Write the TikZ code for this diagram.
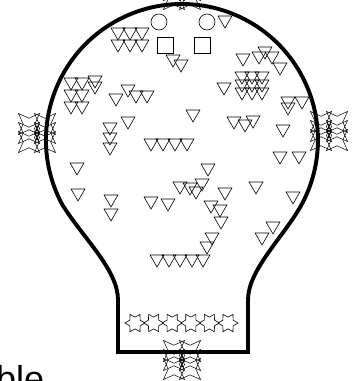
\documentclass[tikz,border=0pt]{standalone}
\usepackage{fontspec}
\setmainfont{Liberation Sans}
\usetikzlibrary{shapes.geometric}
\begin{document}
\begin{tikzpicture}[x=1pt,y=-1pt,
  tri/.style={draw, regular polygon, regular polygon sides=3, shape border rotate=180, minimum size=16pt, inner sep=0pt, line width=0.6pt},
  rnd/.style={draw, circle, minimum size=16pt, inner sep=0pt, line width=0.6pt},
  sq/.style={draw, rectangle, minimum size=16pt, inner sep=0pt, line width=0.6pt},
  hexstar/.style={draw, star, star points=6, star point ratio=1.7, minimum size=20pt, inner sep=0pt, shape border rotate=30, line width=0.6pt},
  quadstar/.style={draw, star, star points=4, star point ratio=2.6, minimum size=30pt, inner sep=0pt, shape border rotate=45, line width=0.5pt},
  dot/.style={draw, circle, minimum size=5pt, inner sep=0pt, line width=0.5pt},
  bulb/.style={line width=3.9pt, line join=miter}]
\useasboundingbox (0,0) rectangle (359,381);
% bulb outline
\draw[bulb] (118,352) -- (118,300) .. controls (118,270) and (84,239) .. (62.5,205)
  arc[start angle=151.45, end angle=388.55, radius=136]
  .. controls (282,239) and (248,270) .. (248,300) -- (248,352) -- cycle;
% circles and squares
\node[rnd] (c1) at (159,22) {};
\node[rnd] (c2) at (207,22) {};
\node[sq] (s1) at (165,45) {};
\node[sq] (s2) at (202,45) {};
% triangles (centre x / top y)
\foreach \x/\y [count=\i] in {
  118/28,130/28,142/28,118/40,130/40,142/40,
  173/55,181/60,225/16,
  243/54,259/52,265/47,272/52,280/63,
  242/72,252/72,262/72,242/80,252/80,262/80,242/88,252/88,262/88,
  224/83,288/97,288/103,302/97,193/110,234/117,245/120,253/116,283/125,
  71/78,82/78,95/76,95/82,71/90,82/90,71/102,82/102,
  116/94,128/85,136/91,147/91,
  110/123,110/133,110/143,128/117,
  151/139,163/139,175/139,187/139,
  77/163,78/189,111/195,111/209,151/197,168/199,
  180/182,190/183,196/187,202/179,208/164,225/188,
  256/182,293/192,280/152,299/152,
  211/201,220/205,221/217,273/222,262/233,212/233,207/242,
  157/255,169/255,180/255,192/255,203/255}
  \node[tri] (t\i) at (\x,\y+4) {};
% row of six-pointed stars
\foreach \x [count=\i] in {135,153.6,172.2,190.8,209.4,228}
  \node[hexstar] (h\i) at (\x,323) {};
% clusters of four-pointed stars
\foreach \cx/\cy/\n in {37/133/L,329/131/R,182/360/B,182/-10/T} {
  \foreach \dx [count=\i] in {-8,8}
    \foreach \dy [count=\j] in {-9,0,9}
      \node[quadstar] (q\n\i\j) at (\cx+\dx,\cy+\dy) {};
  \node[dot] (d\n1) at (\cx,\cy-4.5) {};
  \node[dot] (d\n2) at (\cx,\cy+4.5) {};
}
% cut-off label
\node[anchor=base west, font=\fontsize{36}{40}\selectfont, inner sep=0pt] (lbl) at (-4,391) {ble};
\end{tikzpicture}
\end{document}
